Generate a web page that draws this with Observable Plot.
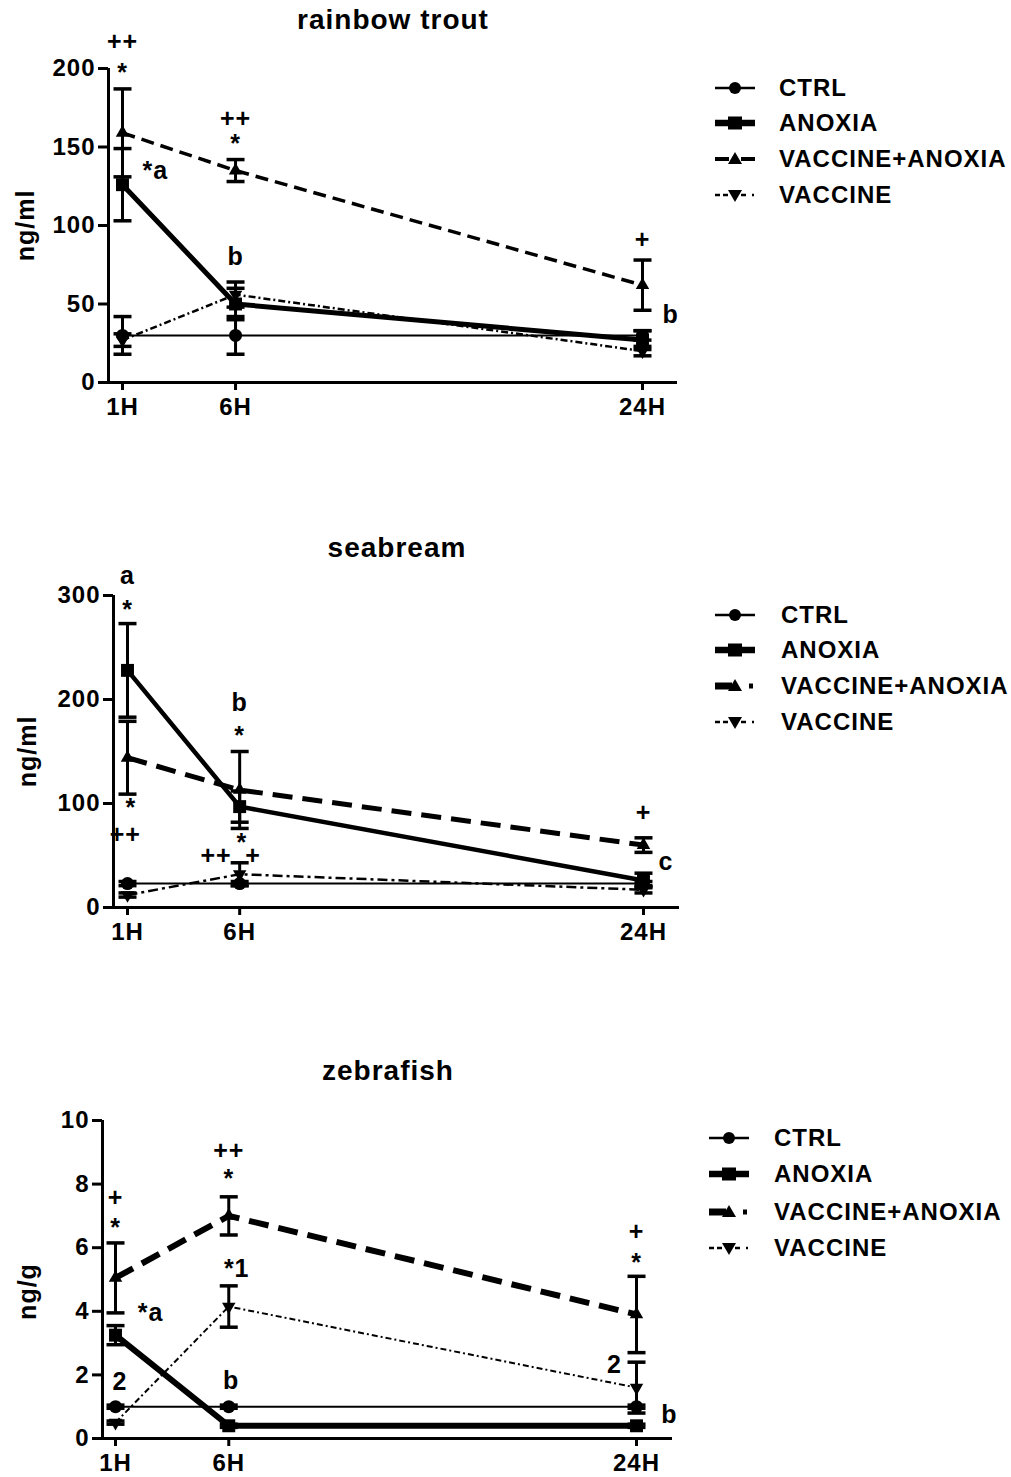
<!DOCTYPE html>
<html>
<head>
<meta charset="utf-8">
<script src="https://cdn.jsdelivr.net/npm/d3@7"></script>
<script src="https://cdn.jsdelivr.net/npm/@observablehq/plot@0.6"></script>
<style>
  body { margin: 0; background: #fff; }
  #root { position: relative; width: 1011px; height: 1477px; overflow: hidden;
          font-family: "Liberation Sans", Arial, sans-serif; font-weight: bold; color: #000; }
  .title { position: absolute; font-size: 28px; letter-spacing: 1px; white-space: nowrap;
           transform: translate(-50%, -50%); line-height: 1; }
  .panel { position: absolute; left: 0; }
  .ltext { position: absolute; font-size: 24px; letter-spacing: 1px; line-height: 1;
           transform: translateY(-50%); white-space: nowrap; }
  .lsym { position: absolute; }
</style>
</head>
<body>
<div id="root"></div>
<script>
// ---------------- DATA ----------------
const hours = [1, 6, 24];
const hourLabels = ["1H", "6H", "24H"];
const groups = ["CTRL", "ANOXIA", "VACCINE+ANOXIA", "VACCINE"];

// rainbow trout (ng/ml): mean and SEM at 1H, 6H, 24H
const troutCtrl = [30, 30, 30];
const troutCtrlSem = [12, 12, 3];
const troutAnoxia = [126, 50, 27];
const troutAnoxiaSem = [23, 10, 6];
const troutVacAnox = [159, 135, 62];
const troutVacAnoxSem = [28, 7, 16];
const troutVaccine = [27, 56, 20];
const troutVaccineSem = [4, 8, 3];
const troutYTicks = [0, 50, 100, 150, 200];
const troutNotes = [
  [1, 217, "++"], [1, 197, "*"], [2.45, 135, "*a"],
  [6, 168, "++"], [6, 152, "*"], [6, 80, "b"],
  [24, 91, "+"], [25.24, 43, "b"]
];

// seabream (ng/ml)
const breamCtrl = [23, 23, 23];
const breamCtrlSem = [2, 2, 2];
const breamAnoxia = [228, 97, 26];
const breamAnoxiaSem = [45, 15, 7];
const breamVacAnox = [144, 113, 60];
const breamVacAnoxSem = [35, 37, 7];
const breamVaccine = [12, 32, 17];
const breamVaccineSem = [2, 11, 3];
const breamYTicks = [0, 100, 200, 300];
const breamNotes = [
  [1, 319, "a"], [1, 286, "*"], [1.15, 96, "*"], [0.9, 70, "++"],
  [6, 197, "b"], [6, 165, "*"], [6.1, 62, "*"], [4.95, 50, "++"], [6.6, 50, "+"],
  [24, 91, "+"], [25.0, 44, "c"]
];

// zebrafish (ng/g)
const zebraCtrl = [1, 1, 1];
const zebraCtrlSem = [0.05, 0.05, 0.05];
const zebraAnoxia = [3.25, 0.4, 0.4];
const zebraAnoxiaSem = [0.3, 0.05, 0.05];
const zebraVacAnox = [5.05, 7.0, 3.9];
const zebraVacAnoxSem = [1.1, 0.6, 1.2];
const zebraVaccine = [0.5, 4.15, 1.6];
const zebraVaccineSem = [0.05, 0.65, 0.8];
const zebraYTicks = [0, 2, 4, 6, 8, 10];
const zebraNotes = [
  [1, 7.56, "+"], [1, 6.63, "*"], [2.55, 3.94, "*a"], [1.2, 1.78, "2"],
  [6, 9.03, "++"], [6, 8.16, "*"], [6.35, 5.34, "*1"], [6.1, 1.81, "b"],
  [24, 6.5, "+"], [24, 5.53, "*"], [23.03, 2.31, "2"], [25.45, 0.75, "b"]
];

// ---------------- SYMBOLS ----------------
const triDown = {
  draw(ctx, size) {
    const y = Math.sqrt(size / (Math.sqrt(3) * 3));
    ctx.moveTo(0, 2 * y);
    ctx.lineTo(-Math.sqrt(3) * y, -y);
    ctx.lineTo(Math.sqrt(3) * y, -y);
    ctx.closePath();
  }
};
const capSym = {
  draw(ctx, size) {
    const r = Math.sqrt(size / Math.PI);
    ctx.moveTo(-r, 0);
    ctx.lineTo(r, 0);
  }
};

const root = document.getElementById("root");

function makePanel(cfg) {
  const rows = [];
  cfg.series.forEach((s, gi) => hours.forEach((h, i) =>
    rows.push({group: groups[gi], hour: h, mean: s[0][i], sem: s[1][i]})));
  const notes = cfg.notes.map(([x, y, t]) => ({x, y, t}));
  const marks = [
    Plot.ruleX(rows, {x: "hour", y1: d => d.mean - d.sem, y2: d => d.mean + d.sem, strokeWidth: 3}),
    Plot.dot(rows, {x: "hour", y: d => d.mean + d.sem, symbol: capSym, r: 9, stroke: "black", fill: "none", strokeWidth: 3.5}),
    Plot.dot(rows, {x: "hour", y: d => d.mean - d.sem, symbol: capSym, r: 9, stroke: "black", fill: "none", strokeWidth: 3.5})
  ];
  groups.forEach((g, gi) => {
    const st = cfg.styles[gi];
    const sub = rows.filter(d => d.group === g);
    marks.push(Plot.line(sub, {x: "hour", y: "mean", stroke: "black", strokeWidth: st.sw,
      strokeDasharray: st.dash || null, strokeLinecap: "butt"}));
  });
  groups.forEach((g, gi) => {
    const st = cfg.styles[gi];
    const sub = rows.filter(d => d.group === g);
    marks.push(Plot.dot(sub, {x: "hour", y: "mean", symbol: st.symbol, r: st.r, fill: "black", stroke: "none"}));
  });
  marks.push(
    Plot.ruleX([cfg.xDomain[0]], {strokeWidth: 3}),
    Plot.ruleY([0], {strokeWidth: 3}),
    Plot.axisY(cfg.yTicks, {tickSize: 10, tickPadding: 3, strokeWidth: 3, fontSize: 24, fontWeight: "bold", label: null}),
    Plot.axisX(hours, {tickFormat: d => hourLabels[hours.indexOf(d)], tickSize: 8, tickPadding: 7,
      strokeWidth: 3, fontSize: 24, fontWeight: "bold", label: null}),
    Plot.text([cfg.yLabel], {text: d => d, frameAnchor: "left", textAnchor: "middle", rotate: -90,
      dx: cfg.labelDx, dy: cfg.labelDy, fontSize: 25, fontWeight: "bold"}),
    Plot.text(notes, {x: "x", y: "y", text: "t", fontSize: 25, fontWeight: "bold"})
  );
  const svg = Plot.plot({
    width: cfg.width, height: cfg.height,
    marginLeft: cfg.marginLeft, marginRight: cfg.width - cfg.frameRight,
    marginTop: cfg.marginTop, marginBottom: cfg.marginBottom,
    x: {type: "linear", domain: cfg.xDomain, label: null},
    y: {type: "linear", domain: cfg.yDomain, label: null},
    style: {background: "transparent", fontFamily: "'Liberation Sans', Arial, sans-serif",
            fontWeight: "bold", fontSize: "24px", letterSpacing: "1px", overflow: "visible", color: "black"},
    marks
  });
  const wrap = document.createElement("div");
  wrap.className = "panel";
  wrap.style.top = cfg.top + "px";
  wrap.appendChild(svg);
  root.appendChild(wrap);

  const t = document.createElement("div");
  t.className = "title";
  t.textContent = cfg.title;
  t.style.left = cfg.titleX + "px";
  t.style.top = cfg.titleY + "px";
  root.appendChild(t);

  // legend
  cfg.legendRows.forEach((cy, gi) => {
    const s = document.createElementNS("http://www.w3.org/2000/svg", "svg");
    s.setAttribute("class", "lsym");
    s.setAttribute("width", 50); s.setAttribute("height", 30);
    s.style.left = (cfg.legendX - 2) + "px";
    s.style.top = (cy - 15) + "px";
    s.innerHTML = cfg.legendSym[gi];
    root.appendChild(s);
    const tx = document.createElement("div");
    tx.className = "ltext";
    tx.textContent = groups[gi];
    tx.style.left = cfg.legendTextX + "px";
    tx.style.top = cy + "px";
    root.appendChild(tx);
  });
}

// legend sample drawings (local 50x30 box, centre at 22,15)
const symCtrl = '<line x1="2" y1="15" x2="42" y2="15" stroke="black" stroke-width="2.5"/><circle cx="22" cy="15" r="6" fill="black"/>';
const symAnox = '<line x1="2" y1="15" x2="42" y2="15" stroke="black" stroke-width="6.5"/><rect x="15" y="8.5" width="14" height="13" fill="black"/>';
const symVA1 = '<line x1="2" y1="15" x2="16" y2="15" stroke="black" stroke-width="4"/><line x1="28" y1="15" x2="42" y2="15" stroke="black" stroke-width="4"/><path d="M22,8 L29,20 L15,20 Z" fill="black"/>';
const symVA2 = '<line x1="2" y1="15" x2="19" y2="15" stroke="black" stroke-width="7"/><path d="M22,8 L29,20 L15,20 Z" fill="black"/><line x1="36" y1="15" x2="40" y2="15" stroke="black" stroke-width="5"/>';
const symVac = '<line x1="2" y1="15" x2="7" y2="15" stroke="black" stroke-width="2.5"/><line x1="10" y1="15" x2="15" y2="15" stroke="black" stroke-width="2.5"/><line x1="28" y1="15" x2="33" y2="15" stroke="black" stroke-width="2.5"/><line x1="39" y1="15" x2="41" y2="15" stroke="black" stroke-width="2.5"/><path d="M15,10 L29,10 L22,22 Z" fill="black"/>';

makePanel({
  title: "rainbow trout", titleX: 393, titleY: 20,
  top: 30, width: 707, height: 397, marginLeft: 108, frameRight: 677, marginTop: 38, marginBottom: 45,
  xDomain: [0.381, 25.548], yDomain: [0, 200], yTicks: troutYTicks,
  yLabel: "ng/ml", labelDx: -83, labelDy: 0,
  series: [[troutCtrl, troutCtrlSem], [troutAnoxia, troutAnoxiaSem], [troutVacAnox, troutVacAnoxSem], [troutVaccine, troutVaccineSem]],
  styles: [
    {sw: 2, symbol: "circle", r: 6.5},
    {sw: 5, symbol: "square", r: 7.3},
    {sw: 3.5, dash: "13,7", symbol: "triangle", r: 5},
    {sw: 2.5, dash: "7,3,2,3", symbol: triDown, r: 5}
  ],
  notes: troutNotes,
  legendX: 715, legendTextX: 779, legendRows: [88, 123, 159, 195],
  legendSym: [symCtrl, symAnox, symVA1, symVac]
});

makePanel({
  title: "seabream", titleX: 397, titleY: 548,
  top: 560, width: 709, height: 392, marginLeft: 113, frameRight: 679, marginTop: 35, marginBottom: 45,
  xDomain: [0.376, 25.605], yDomain: [0, 300], yTicks: breamYTicks,
  yLabel: "ng/ml", labelDx: -86, labelDy: 0,
  series: [[breamCtrl, breamCtrlSem], [breamAnoxia, breamAnoxiaSem], [breamVacAnox, breamVacAnoxSem], [breamVaccine, breamVaccineSem]],
  styles: [
    {sw: 2, symbol: "circle", r: 6.5},
    {sw: 4.5, symbol: "square", r: 7.3},
    {sw: 5, dash: "20,10", symbol: "triangle", r: 5},
    {sw: 2.5, dash: "10,4,3,4", symbol: triDown, r: 5}
  ],
  notes: breamNotes,
  legendX: 715, legendTextX: 781, legendRows: [615, 650, 686, 722],
  legendSym: [symCtrl, symAnox, symVA2, symVac]
});

makePanel({
  title: "zebrafish", titleX: 388, titleY: 1071,
  top: 1100, width: 702, height: 377, marginLeft: 102, frameRight: 672, marginTop: 20, marginBottom: 39,
  xDomain: [0.426, 25.589], yDomain: [0, 10], yTicks: zebraYTicks,
  yLabel: "ng/g", labelDx: -75, labelDy: 12,
  series: [[zebraCtrl, zebraCtrlSem], [zebraAnoxia, zebraAnoxiaSem], [zebraVacAnox, zebraVacAnoxSem], [zebraVaccine, zebraVaccineSem]],
  styles: [
    {sw: 2, symbol: "circle", r: 6.5},
    {sw: 6, symbol: "square", r: 7.3},
    {sw: 6, dash: "20,10", symbol: "triangle", r: 5},
    {sw: 2, dash: "6,3,2,3", symbol: triDown, r: 5}
  ],
  notes: zebraNotes,
  legendX: 709, legendTextX: 774, legendRows: [1138, 1174, 1212, 1248],
  legendSym: [symCtrl, symAnox, symVA2, symVac]
});
</script>
</body>
</html>
